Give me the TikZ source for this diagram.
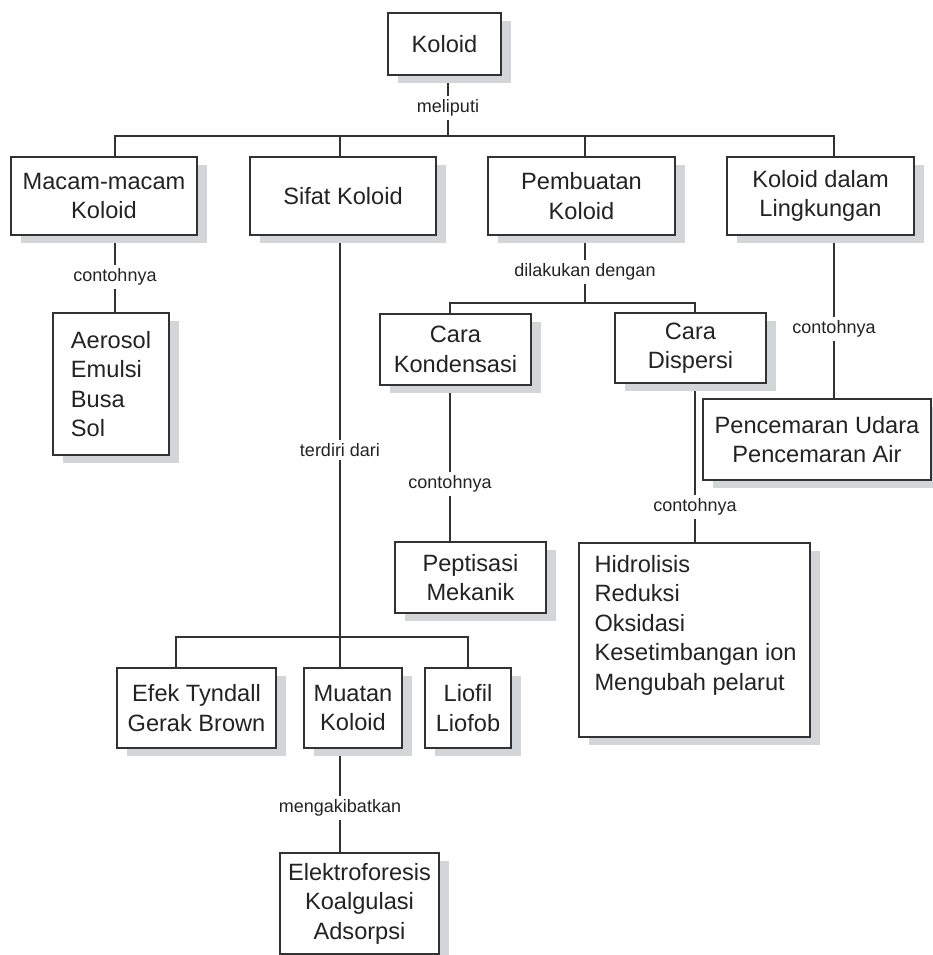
\documentclass[tikz,border=0pt]{standalone}
\usepackage{fontspec}
\setmainfont{Liberation Sans}
\usetikzlibrary{shadows}
\definecolor{linec}{RGB}{50,50,50}
\definecolor{shadc}{RGB}{211,213,214}
\definecolor{txtc}{RGB}{35,35,35}
\pgfdeclarelayer{bg}
\pgfsetlayers{bg,main}
\begin{document}
\begin{tikzpicture}[x=1pt,y=-1pt,
  box/.style={draw=linec, line width=1.5pt, fill=white, text=txtc, inner sep=0pt, align=center,
    font=\fontsize{23.6}{29.5}\selectfont,
    general shadow={fill=shadc, draw=none, shadow xshift=10pt, shadow yshift=-8pt}},
  conn/.style={draw=linec, line width=1.3pt},
  lbl/.style={fill=white, text=txtc, inner sep=3.5pt, font=\fontsize{18}{21}\selectfont}]
\useasboundingbox (0,0) rectangle (932,955);

% boxes
\node[box, minimum width=113pt, minimum height=62pt] (koloid) at (444.5,44) {Koloid};
\node[box, minimum width=186pt, minimum height=78pt] (macam) at (104,196) {Macam-macam\\Koloid};
\node[box, minimum width=186pt, minimum height=78pt] (sifat) at (343,196) {Sifat Koloid};
\node[box, minimum width=187pt, minimum height=78pt] (pemb) at (581.5,196) {Pembuatan\\Koloid};
\node[box, minimum width=187pt, minimum height=78pt] (lingk) at (820.5,196) {Koloid dalam\\Lingkungan};
\node[box, minimum width=116pt, minimum height=142pt, align=left] (aero) at (111,384) {Aerosol\\Emulsi\\Busa\\Sol};
\node[box, minimum width=151pt, minimum height=71pt] (kond) at (455.5,349.5) {Cara\\Kondensasi};
\node[box, minimum width=151pt, minimum height=70pt] (disp) at (690.5,348) {Cara\\Dispersi};
\node[box, minimum width=151pt, minimum height=71pt] (pept) at (470.5,577.5) {Peptisasi\\Mekanik};
\node[box, minimum width=231pt, minimum height=194pt] (hidro) at (694.5,640)
  {\begin{minipage}[c][170pt][t]{214pt}\raggedright\leftskip=7pt
   Hidrolisis\\Reduksi\\Oksidasi\\Kesetimbangan ion\\Mengubah pelarut\end{minipage}};
\node[box, minimum width=228pt, minimum height=81pt] (pencem) at (817,439.5) {Pencemaran Udara\\Pencemaran Air};
\node[box, minimum width=159pt, minimum height=80pt] (efek) at (196.5,708) {Efek Tyndall\\Gerak Brown};
\node[box, minimum width=98pt, minimum height=80pt] (muatan) at (353,708) {Muatan\\Koloid};
\node[box, minimum width=86pt, minimum height=80pt] (liofil) at (468,708) {Liofil\\Liofob};
\node[box, minimum width=159pt, minimum height=101pt] (elek) at (359.5,903.5) {Elektroforesis\\Koalgulasi\\Adsorpsi};

\begin{pgfonlayer}{bg}
\coordinate (j0) at (448,136);
\coordinate (j1) at (340,637);
\coordinate (j2) at (585,303);
\coordinate (xa) at (115,0);
\coordinate (xb) at (340,0);
\coordinate (xc) at (585,0);
\coordinate (xd) at (834,0);
\coordinate (xk) at (450,0);
\coordinate (xp) at (695,0);
\coordinate (xe) at (176,0);
\coordinate (xl) at (468,0);

\draw[conn] (koloid.south -| j0) -- (j0);
\draw[conn] (macam.north -| xa) -- (xa |- j0) -- (xd |- j0) -- (lingk.north -| xd);
\draw[conn] (sifat.north -| xb) -- (xb |- j0);
\draw[conn] (pemb.north -| xc) -- (xc |- j0);
\draw[conn] (macam.south -| xa) -- (aero.north -| xa);
\draw[conn] (sifat.south -| xb) -- (j1);
\draw[conn] (efek.north -| xe) -- (xe |- j1) -- (xl |- j1) -- (liofil.north -| xl);
\draw[conn] (muatan.north -| xb) -- (j1);
\draw[conn] (muatan.south -| xb) -- (elek.north -| xb);
\draw[conn] (pemb.south -| xc) -- (j2);
\draw[conn] (kond.north -| xk) -- (xk |- j2) -- (xp |- j2) -- (disp.north -| xp);
\draw[conn] (kond.south -| xk) -- (pept.north -| xk);
\draw[conn] (disp.south -| xp) -- (hidro.north -| xp);
\draw[conn] (lingk.south -| xd) -- (pencem.north -| xd);

\node[lbl] (l1) at (448,108) {meliputi};
\node[lbl] (l2) at (115,277) {contohnya};
\node[lbl] (l3) at (340,450) {terdiri dari};
\node[lbl] (l4) at (585,272) {dilakukan dengan};
\node[lbl] (l5) at (450,484) {contohnya};
\node[lbl] (l6) at (695,507) {contohnya};
\node[lbl] (l7) at (834,329) {contohnya};
\node[lbl] (l8) at (340,808) {mengakibatkan};
\end{pgfonlayer}
\end{tikzpicture}
\end{document}
